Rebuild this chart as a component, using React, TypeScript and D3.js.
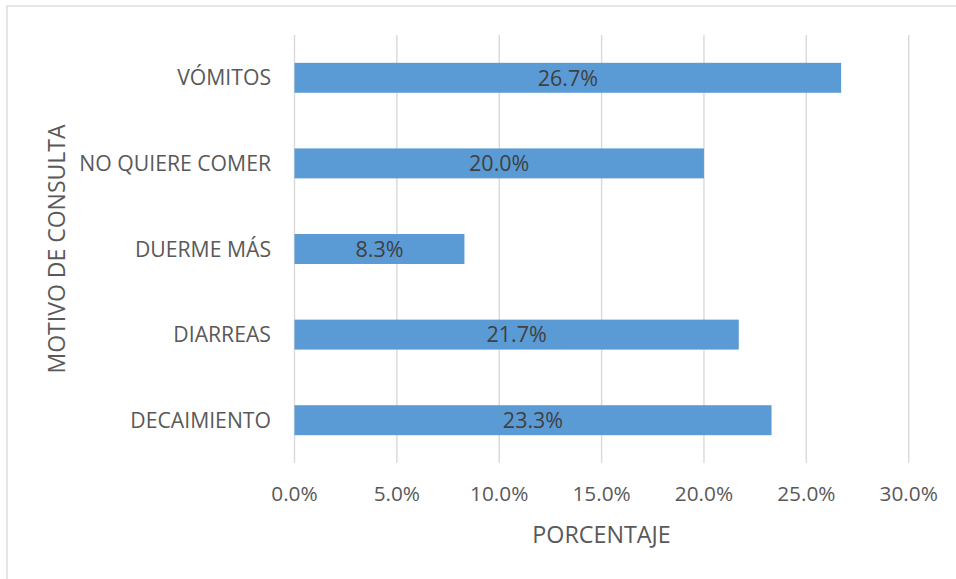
import React from "react";
import * as d3 from "d3";

const categories = ["VÓMITOS", "NO QUIERE COMER", "DUERME MÁS", "DIARREAS", "DECAIMIENTO"];
const values = [26.7, 20.0, 8.3, 21.7, 23.3];
const xTicks = [0, 5, 10, 15, 20, 25, 30];
const xTitle = "PORCENTAJE";
const yTitle = "MOTIVO DE CONSULTA";

const W = 956;
const H = 579;
const plot = { left: 294.5, right: 908.7, top: 35, bottom: 463 };
const FONT = "'Open Sans', sans-serif";

export default function App() {
  const x = d3.scaleLinear().domain([0, 30]).range([plot.left, plot.right]);
  const y = d3
    .scaleBand<string>()
    .domain(categories)
    .range([plot.top, plot.bottom])
    .paddingInner(0.65)
    .paddingOuter(0.325);

  return (
    <svg
      width={W}
      height={H}
      style={{ position: "absolute", left: 0, top: 0, background: "#fff" }}
      fontFamily={FONT}
    >
      <rect x={7} y={6} width={W + 10} height={H + 10} fill="#fff" stroke="#d9d9d9" strokeWidth={1.3} />
      {xTicks.map((t) => (
        <line
          key={"g" + t}
          x1={x(t)}
          x2={x(t)}
          y1={plot.top}
          y2={plot.bottom}
          stroke="#d9d9d9"
          strokeWidth={1.4}
        />
      ))}
      {categories.map((c, i) => (
        <rect
          key={"b" + c}
          x={x(0)}
          y={y(c)!}
          width={x(values[i]) - x(0)}
          height={y.bandwidth()}
          fill="#5b9bd5"
        />
      ))}
      {categories.map((c, i) => (
        <text
          key={"v" + c}
          x={(x(0) + x(values[i])) / 2}
          y={y(c)! + y.bandwidth() / 2}
          dy="0.36em"
          textAnchor="middle"
          fontSize={21.5}
          fill="#404040"
        >
          {values[i].toFixed(1) + "%"}
        </text>
      ))}
      {categories.map((c) => (
        <text
          key={"c" + c}
          x={271}
          y={y(c)! + y.bandwidth() / 2}
          dy="0.36em"
          textAnchor="end"
          fontSize={21.2}
          fill="#595959"
        >
          {c}
        </text>
      ))}
      {xTicks.map((t) => (
        <text
          key={"t" + t}
          x={x(t)}
          y={494}
          dy="0.36em"
          textAnchor="middle"
          fontSize={20.8}
          fill="#595959"
        >
          {t.toFixed(1) + "%"}
        </text>
      ))}
      <text
        x={(plot.left + plot.right) / 2}
        y={535}
        dy="0.36em"
        textAnchor="middle"
        fontSize={23.3}
        fill="#595959"
      >
        {xTitle}
      </text>
      <text
        transform={`translate(57, ${(plot.top + plot.bottom) / 2}) rotate(-90)`}
        dy="0.36em"
        textAnchor="middle"
        fontSize={23}
        fill="#595959"
      >
        {yTitle}
      </text>
    </svg>
  );
}
